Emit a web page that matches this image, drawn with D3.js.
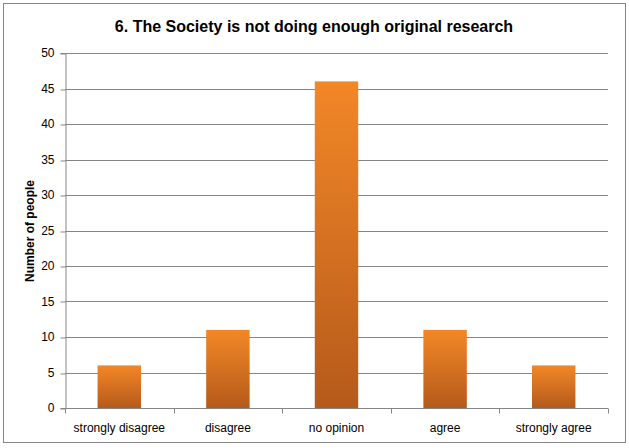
<!DOCTYPE html>
<html>
<head>
<meta charset="utf-8">
<script src="https://cdn.jsdelivr.net/npm/d3@7"></script>
<style>
  body { margin: 0; background: #fff; }
  text { font-family: "Liberation Sans", Arial, sans-serif; fill: #000; }
</style>
</head>
<body>
<div id="chart"></div>
<script>
// Data
const categories = ["strongly disagree", "disagree", "no opinion", "agree", "strongly agree"];
const counts = [6, 11, 46, 11, 6];
const yTicks = [0, 5, 10, 15, 20, 25, 30, 35, 40, 45, 50];
const titleText = "6. The Society is not doing enough original research";
const yLabel = "Number of people";

const width = 629, height = 448;
const margin = { top: 53, right: 21, bottom: 40, left: 65 };

const svg = d3.select("#chart")
  .append("svg")
  .attr("width", width)
  .attr("height", height);

// bar gradient, light orange at top to darker at the bottom
const grad = svg.append("defs").append("linearGradient")
  .attr("id", "barGrad")
  .attr("x1", 0).attr("y1", 0).attr("x2", 0).attr("y2", 1);
grad.append("stop").attr("offset", "0%").attr("stop-color", "#f28727");
grad.append("stop").attr("offset", "100%").attr("stop-color", "#b55a1b");

// outer frame
svg.append("rect")
  .attr("x", 3.5).attr("y", 3.5)
  .attr("width", 622).attr("height", 439)
  .attr("fill", "#fff")
  .attr("stroke", "#868686")
  .attr("stroke-width", 1);

const x = d3.scaleBand()
  .domain(categories)
  .range([margin.left, width - margin.right])
  .paddingInner(0.6)
  .paddingOuter(0.3);

const y = d3.scaleLinear()
  .domain([0, 50])
  .range([height - margin.bottom, margin.top]);

// gridlines
svg.append("g")
  .selectAll("line")
  .data(yTicks.filter(d => d > 0))
  .enter()
  .append("line")
  .attr("x1", margin.left)
  .attr("x2", width - margin.right)
  .attr("y1", d => Math.round(y(d)) + 0.5)
  .attr("y2", d => Math.round(y(d)) + 0.5)
  .attr("stroke", "#868686");

// y axis
const yAxis = svg.append("g")
  .attr("transform", `translate(${margin.left + 0.5},0)`)
  .call(d3.axisLeft(y).tickValues(yTicks).tickSize(5).tickPadding(6));
yAxis.selectAll(".tick line").attr("stroke", "#868686")
  .attr("transform", d => `translate(0,${Math.round(y(d)) + 0.5 - y(d)})`);
yAxis.select(".domain").attr("stroke", "#868686");
yAxis.selectAll("text").style("font-size", "12px").attr("fill", "#000");

// bars
svg.append("g")
  .selectAll("rect")
  .data(categories)
  .enter()
  .append("rect")
  .attr("x", d => x(d))
  .attr("y", (d, i) => y(counts[i]))
  .attr("width", x.bandwidth())
  .attr("height", (d, i) => y(0) - y(counts[i]))
  .attr("fill", "url(#barGrad)");

// x axis: ticks sit on the category boundaries
const step = (width - margin.right - margin.left) / categories.length;
const xAxisG = svg.append("g")
  .attr("transform", `translate(0,${Math.round(y(0)) + 0.5})`);
xAxisG.append("line")
  .attr("x1", margin.left).attr("x2", width - margin.right)
  .attr("stroke", "#868686");
xAxisG.selectAll(".bound")
  .data(d3.range(categories.length + 1))
  .enter()
  .append("line")
  .attr("class", "bound")
  .attr("x1", i => Math.round(margin.left + i * step) + 0.5)
  .attr("x2", i => Math.round(margin.left + i * step) + 0.5)
  .attr("y1", 0).attr("y2", 5)
  .attr("stroke", "#868686");
xAxisG.selectAll(".lbl")
  .data(categories)
  .enter()
  .append("text")
  .attr("class", "lbl")
  .attr("x", d => x(d) + x.bandwidth() / 2)
  .attr("y", 23)
  .attr("text-anchor", "middle")
  .style("font-size", "12px")
  .text(d => d);

// title
svg.append("text")
  .attr("x", 314)
  .attr("y", 32)
  .attr("text-anchor", "middle")
  .style("font-size", "16px")
  .style("font-weight", "bold")
  .text(titleText);

// y axis title
svg.append("text")
  .attr("transform", "translate(34,231) rotate(-90)")
  .attr("text-anchor", "middle")
  .style("font-size", "12px")
  .style("font-weight", "bold")
  .text(yLabel);
</script>
</body>
</html>
